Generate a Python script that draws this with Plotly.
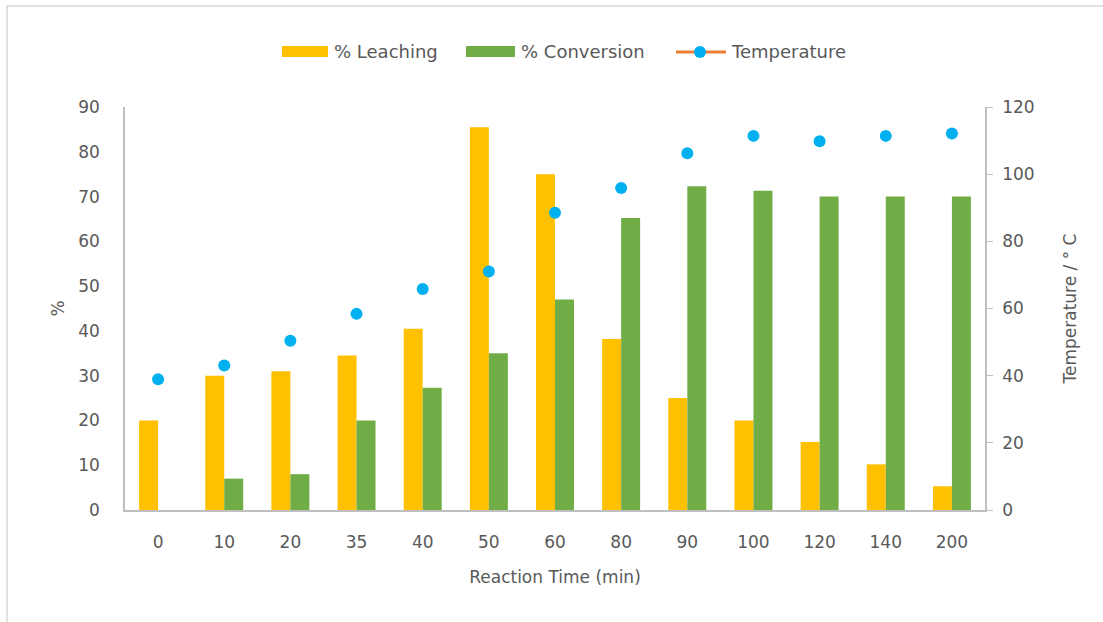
import plotly.graph_objects as go

categories = ["0", "10", "20", "35", "40", "50", "60", "80", "90", "100", "120", "140", "200"]
leaching = [20, 30, 31, 34.5, 40.5, 85.5, 75, 38.2, 25, 20, 15.2, 10.2, 5.3]
conversion = [0, 7, 8, 20, 27.3, 35, 47, 65.2, 72.3, 71.3, 70, 70, 70]
temperature = [38.9, 43, 50.4, 58.4, 65.8, 71, 88.5, 95.9, 106.2, 111.4, 109.8, 111.4, 112.1]
series_names = ["% Leaching", "% Conversion", "Temperature"]

FONT = "'DejaVu Sans', sans-serif"
GREY = "#595959"
C_LEACH, C_CONV, C_LINE, C_DOT = "#FFC000", "#70AD47", "#ED7D31", "#00B0F0"
TICK = dict(size=17, color=GREY, family=FONT)
TITLE = dict(size=17, color=GREY, family=FONT)

fig = go.Figure()
fig.add_trace(go.Bar(x=categories, y=leaching, name=series_names[0], showlegend=False,
                     marker=dict(color=C_LEACH, line=dict(width=0))))
fig.add_trace(go.Bar(x=categories, y=conversion, name=series_names[1], showlegend=False,
                     marker=dict(color=C_CONV, line=dict(width=0))))
fig.add_trace(go.Scatter(x=categories, y=temperature, name=series_names[2], mode="markers",
                         yaxis="y2", showlegend=False,
                         marker=dict(color=C_DOT, size=12)))

L, R, T, B, W, H = 125, 118, 107, 112, 1103, 622
PW, PH = W - L - R, H - T - B


def px(x):
    return (x - L) / PW


def py(y):
    return (H - B - y) / PH


fig.update_layout(
    width=W, height=H,
    margin=dict(l=L, r=R, t=T, b=B),
    paper_bgcolor="white", plot_bgcolor="white",
    font=dict(family=FONT, color=GREY, size=17),
    barmode="group", bargap=0.426, bargroupgap=0,
    showlegend=False,
    xaxis=dict(type="category", range=[-0.5, 12.5], showline=True, linecolor="#BFBFBF",
               linewidth=1.5, ticks="", showgrid=False, tickfont=TICK, ticklabelstandoff=16,
               title=dict(text="Reaction Time (min)", font=TITLE, standoff=20)),
    yaxis=dict(range=[0, 90], dtick=10, showline=True, linecolor="#BFBFBF", linewidth=1.5,
               showgrid=False, ticks="", zeroline=False, tickfont=TICK, ticklabelstandoff=20,
               title=dict(text="%", font=TITLE, standoff=9)),
    yaxis2=dict(range=[0, 120], dtick=20, overlaying="y", side="right", showline=True,
                linecolor="#BFBFBF", linewidth=1.5, showgrid=False, zeroline=False,
                ticks="outside", ticklen=6, tickcolor="#BFBFBF", tickfont=TICK,
                ticklabelstandoff=6,
                title=dict(text="Temperature / ° C", font=TITLE, standoff=30)),
)

# chart border
fig.add_shape(type="rect", xref="paper", yref="paper",
              x0=px(7), x1=px(1200), y0=py(720), y1=py(6),
              line=dict(color="#D9D9D9", width=1.5), fillcolor="rgba(0,0,0,0)", layer="below")

# legend (drawn to reproduce the wide Excel-style legend keys)
ly = 52
fig.add_shape(type="rect", xref="paper", yref="paper", x0=px(282), x1=px(328),
              y0=py(57), y1=py(46), fillcolor=C_LEACH, line=dict(width=0))
fig.add_shape(type="rect", xref="paper", yref="paper", x0=px(466), x1=px(515),
              y0=py(57), y1=py(46), fillcolor=C_CONV, line=dict(width=0))
fig.add_shape(type="line", xref="paper", yref="paper", x0=px(676), x1=px(726),
              y0=py(ly), y1=py(ly), line=dict(color=C_LINE, width=3))
fig.add_shape(type="circle", xref="paper", yref="paper", x0=px(694), x1=px(706),
              y0=py(ly + 6), y1=py(ly - 6), fillcolor=C_DOT, line=dict(width=0))
for name, x in zip(series_names, [332, 519, 729]):
    fig.add_annotation(text=name, xref="paper", yref="paper", x=px(x), y=py(ly),
                       xanchor="left", yanchor="middle", showarrow=False,
                       font=dict(size=18, color=GREY, family=FONT))

fig.write_html("out.html", post_script="document.body.style.margin='0';",
               config={"displayModeBar": False})
